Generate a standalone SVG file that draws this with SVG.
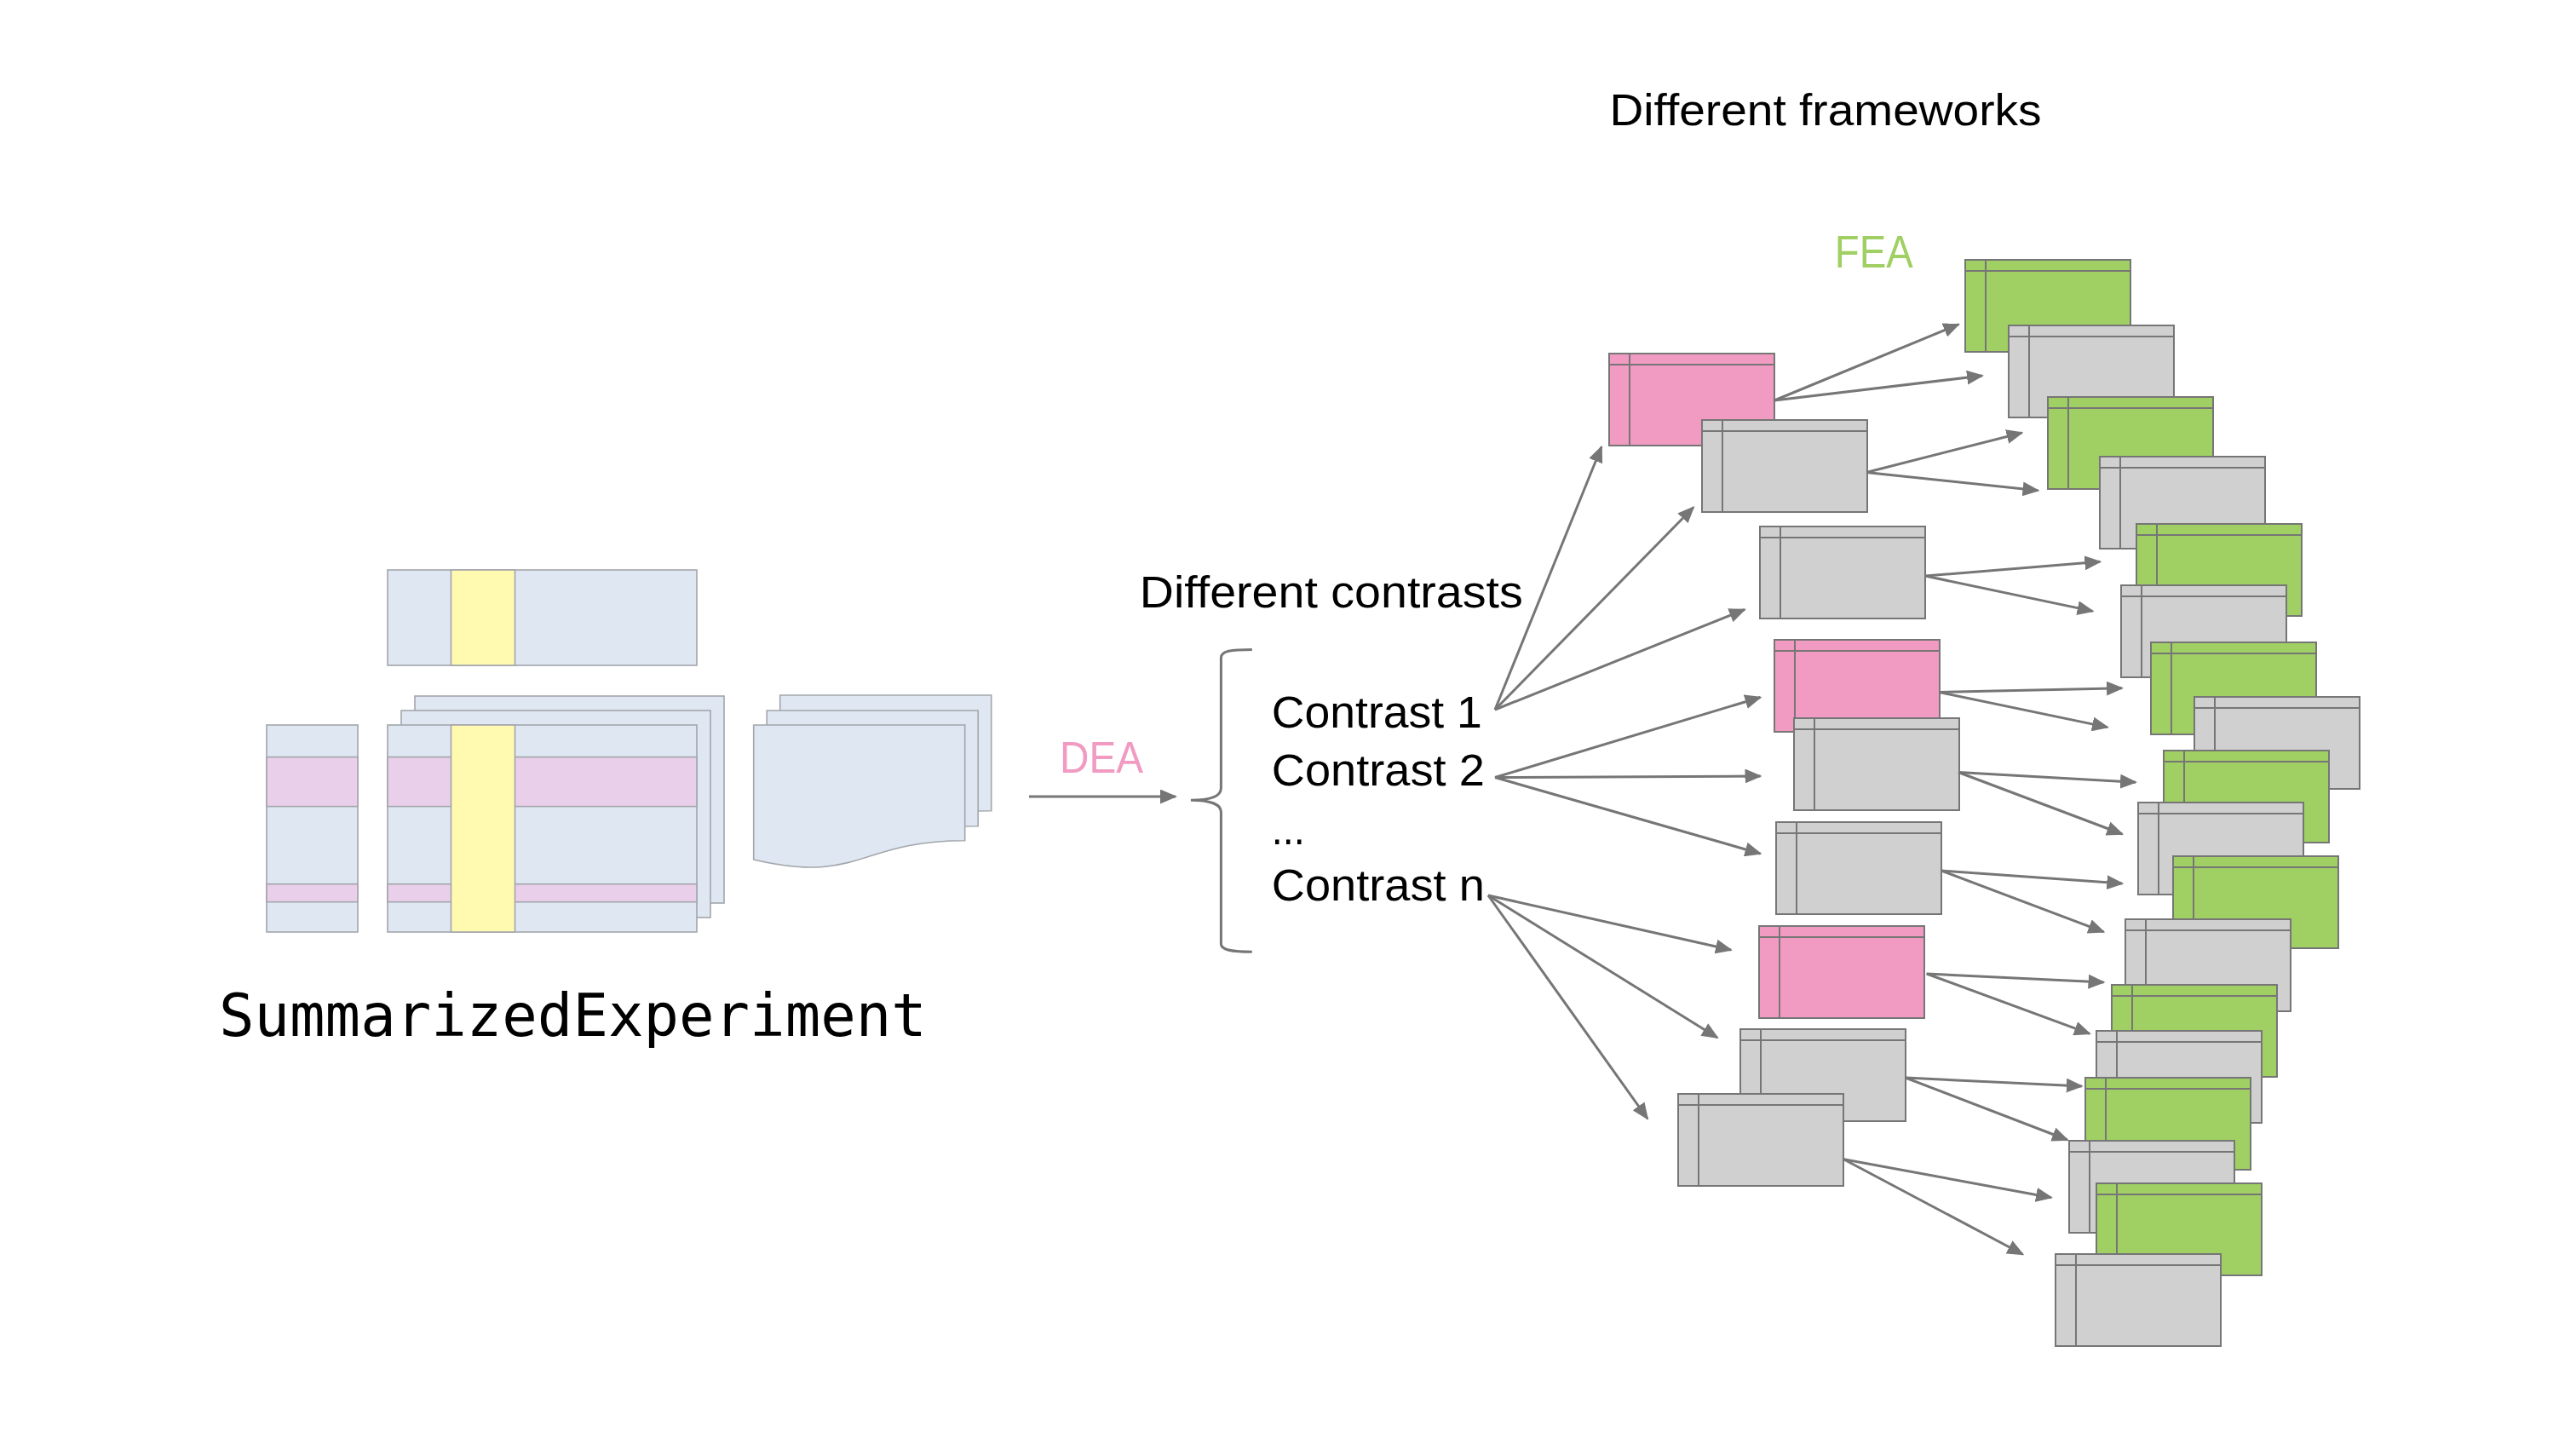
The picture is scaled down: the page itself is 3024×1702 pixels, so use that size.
<svg xmlns="http://www.w3.org/2000/svg" width="3024" height="1702" viewBox="0 0 3024 1702">
<defs>
<style>
.bx rect,.bx path{stroke:#767676;stroke-width:2}
.bx path{fill:none}
.pk rect{fill:#F19BC2}
.gy rect{fill:#D0D0D0}
.gr rect{fill:#A0CF63}
.se{stroke:#A3A6AB;stroke-width:1.6}
.bl{fill:#DEE7F2}
.yl{fill:#FFFAAF}
.pb{fill:#EACFEA}
.lbl{font-family:"Liberation Sans",Arial,sans-serif;font-size:51px;fill:#000}
.con line{stroke:#767676;stroke-width:3;marker-end:url(#ah)}
</style>
<marker id="ah" markerUnits="userSpaceOnUse" viewBox="0 0 20 17" markerWidth="20" markerHeight="17" refX="18" refY="8.5" orient="auto">
<path d="M0 0L20 8.5L0 17z" fill="#767676"/>
</marker>
</defs>
<rect width="3024" height="1702" fill="#fff"/>

<g id="summarized-experiment">
<g id="coldata">
<rect class="se bl" x="455" y="669" width="363" height="112"/>
<rect class="se yl" x="529.5" y="669" width="75" height="112"/>
</g>
<g id="rowdata">
<rect class="se bl" x="313" y="851" width="107" height="243"/>
<rect class="se pb" x="313" y="888.6" width="107" height="58"/>
<rect class="se pb" x="313" y="1037.7" width="107" height="21"/>
</g>
<g id="assays">
<rect class="se bl" x="487" y="817" width="363" height="243"/>
<rect class="se bl" x="471" y="834" width="363" height="243"/>
<rect class="se bl" x="455" y="851" width="363" height="243"/>
<rect class="se pb" x="455" y="888.6" width="363" height="58"/>
<rect class="se pb" x="455" y="1037.7" width="363" height="21"/>
<rect class="se yl" x="529.5" y="851" width="75" height="243"/>
</g>
<g id="metadata">
<path class="se bl" d="M915.7 816h248v135.7C1039.7 951.7 1039.7 1003.4 915.7 974Z"/>
<path class="se bl" d="M900.2 834h248v135.7C1024.2 969.7 1024.2 1021.4 900.2 992Z"/>
<path class="se bl" d="M884.7 851h248v135.7C1008.7 986.7 1008.7 1038.4 884.7 1009Z"/>
</g>
<text x="257" y="1216" style="font-family:'DejaVu Sans Mono',monospace;font-size:69px" fill="#000">SummarizedExperiment</text>
</g>

<g id="labels">
<text class="lbl" x="1244" y="906.7" fill="#F19BC2" style="fill:#F19BC2" textLength="98" lengthAdjust="spacingAndGlyphs">DEA</text>
<text class="lbl" x="1337.8" y="712.7" textLength="450" lengthAdjust="spacingAndGlyphs">Different contrasts</text>
<text class="lbl" x="1492.8" y="854.3" textLength="247" lengthAdjust="spacingAndGlyphs">Contrast 1</text>
<text class="lbl" x="1492.8" y="922.4" textLength="250" lengthAdjust="spacingAndGlyphs">Contrast 2</text>
<text class="lbl" x="1492.8" y="990.5" textLength="39" lengthAdjust="spacingAndGlyphs">...</text>
<text class="lbl" x="1492.8" y="1057.1" textLength="250" lengthAdjust="spacingAndGlyphs">Contrast n</text>
<text class="lbl" x="1889.6" y="146.5" style="font-size:52px" textLength="507" lengthAdjust="spacingAndGlyphs">Different frameworks</text>
<text class="lbl" x="2153.8" y="313.5" style="font-size:54px;fill:#A0CF63" textLength="92" lengthAdjust="spacingAndGlyphs">FEA</text>
</g>

<path id="brace" d="M1469.8 762.5C1445 762.5 1433.4 764 1433.4 772L1433.4 925C1433.4 935 1420 939.3 1397.9 939.3C1420 939.3 1433.4 944 1433.4 953L1433.4 1108C1433.4 1115 1445 1117.2 1469.8 1117.2" fill="none" stroke="#767676" stroke-width="3"/>

<g id="dea-results">
<g id="p1" class="bx pk" transform="translate(1889,415)"><rect width="194" height="108"/><path d="M0 13H194M24 0V108"/></g>
<g id="g1a" class="bx gy" transform="translate(1998,493)"><rect width="194" height="108"/><path d="M0 13H194M24 0V108"/></g>
<g id="g1b" class="bx gy" transform="translate(2066,618)"><rect width="194" height="108"/><path d="M0 13H194M24 0V108"/></g>
<g id="p2" class="bx pk" transform="translate(2083,751)"><rect width="194" height="108"/><path d="M0 13H194M24 0V108"/></g>
<g id="g2a" class="bx gy" transform="translate(2106,843)"><rect width="194" height="108"/><path d="M0 13H194M24 0V108"/></g>
<g id="g2b" class="bx gy" transform="translate(2085,965)"><rect width="194" height="108"/><path d="M0 13H194M24 0V108"/></g>
<g id="pn" class="bx pk" transform="translate(2065,1087)"><rect width="194" height="108"/><path d="M0 13H194M24 0V108"/></g>
<g id="gna" class="bx gy" transform="translate(2043,1208)"><rect width="194" height="108"/><path d="M0 13H194M24 0V108"/></g>
<g id="gnb" class="bx gy" transform="translate(1970,1284)"><rect width="194" height="108"/><path d="M0 13H194M24 0V108"/></g>
</g>

<g id="fea-results">
<g id="f1" class="bx gr" transform="translate(2307,305)"><rect width="194" height="108"/><path d="M0 13H194M24 0V108"/></g>
<g id="f2" class="bx gy" transform="translate(2358,382)"><rect width="194" height="108"/><path d="M0 13H194M24 0V108"/></g>
<g id="f3" class="bx gr" transform="translate(2404,466)"><rect width="194" height="108"/><path d="M0 13H194M24 0V108"/></g>
<g id="f4" class="bx gy" transform="translate(2465,536)"><rect width="194" height="108"/><path d="M0 13H194M24 0V108"/></g>
<g id="f5" class="bx gr" transform="translate(2508,615)"><rect width="194" height="108"/><path d="M0 13H194M24 0V108"/></g>
<g id="f6" class="bx gy" transform="translate(2490,687)"><rect width="194" height="108"/><path d="M0 13H194M24 0V108"/></g>
<g id="f7" class="bx gr" transform="translate(2525,754)"><rect width="194" height="108"/><path d="M0 13H194M24 0V108"/></g>
<g id="f8" class="bx gy" transform="translate(2576,818)"><rect width="194" height="108"/><path d="M0 13H194M24 0V108"/></g>
<g id="f9" class="bx gr" transform="translate(2540,881)"><rect width="194" height="108"/><path d="M0 13H194M24 0V108"/></g>
<g id="f10" class="bx gy" transform="translate(2510,942)"><rect width="194" height="108"/><path d="M0 13H194M24 0V108"/></g>
<g id="f11" class="bx gr" transform="translate(2551,1005)"><rect width="194" height="108"/><path d="M0 13H194M24 0V108"/></g>
<g id="f12" class="bx gy" transform="translate(2495,1079)"><rect width="194" height="108"/><path d="M0 13H194M24 0V108"/></g>
<g id="f13" class="bx gr" transform="translate(2479,1156)"><rect width="194" height="108"/><path d="M0 13H194M24 0V108"/></g>
<g id="f14" class="bx gy" transform="translate(2461,1210)"><rect width="194" height="108"/><path d="M0 13H194M24 0V108"/></g>
<g id="f15" class="bx gr" transform="translate(2448,1265)"><rect width="194" height="108"/><path d="M0 13H194M24 0V108"/></g>
<g id="f16" class="bx gy" transform="translate(2429,1339)"><rect width="194" height="108"/><path d="M0 13H194M24 0V108"/></g>
<g id="f17" class="bx gr" transform="translate(2461,1389)"><rect width="194" height="108"/><path d="M0 13H194M24 0V108"/></g>
<g id="f18" class="bx gy" transform="translate(2413,1472)"><rect width="194" height="108"/><path d="M0 13H194M24 0V108"/></g>
</g>

<g id="connectors" class="con">
<line x1="1208" y1="935" x2="1380" y2="935"/>
<line x1="1755" y1="833" x2="1880" y2="524.5"/>
<line x1="1755" y1="833" x2="1988" y2="595.5"/>
<line x1="1755" y1="833" x2="2048" y2="715.5"/>
<line x1="1755" y1="912.5" x2="2066.5" y2="818.5"/>
<line x1="1755" y1="912.5" x2="2066.5" y2="911"/>
<line x1="1755" y1="912.5" x2="2066.5" y2="1002"/>
<line x1="1747" y1="1051" x2="2032" y2="1115"/>
<line x1="1747" y1="1051" x2="2016" y2="1218"/>
<line x1="1747" y1="1051" x2="1934" y2="1313"/>
<line x1="2083" y1="470" x2="2299.4" y2="380.6"/>
<line x1="2083" y1="470" x2="2327" y2="441"/>
<line x1="2191" y1="554.5" x2="2373.5" y2="508"/>
<line x1="2191" y1="554.5" x2="2392.5" y2="575.8"/>
<line x1="2260" y1="676" x2="2465.3" y2="659.3"/>
<line x1="2260" y1="676" x2="2456.6" y2="717.4"/>
<line x1="2276.5" y1="812.5" x2="2491" y2="807.7"/>
<line x1="2276.5" y1="812.5" x2="2474" y2="853.6"/>
<line x1="2299" y1="906.5" x2="2507" y2="918.2"/>
<line x1="2299" y1="906.5" x2="2491.3" y2="979"/>
<line x1="2279" y1="1022" x2="2491.3" y2="1037"/>
<line x1="2279" y1="1022" x2="2469.5" y2="1093.8"/>
<line x1="2261.7" y1="1143" x2="2469.5" y2="1153"/>
<line x1="2261.7" y1="1143" x2="2453" y2="1213.4"/>
<line x1="2236.8" y1="1265" x2="2443.8" y2="1275"/>
<line x1="2236.8" y1="1265" x2="2427" y2="1338"/>
<line x1="2164.3" y1="1360.7" x2="2408" y2="1405.7"/>
<line x1="2164.3" y1="1360.7" x2="2374.5" y2="1472.3"/>
</g>
</svg>
